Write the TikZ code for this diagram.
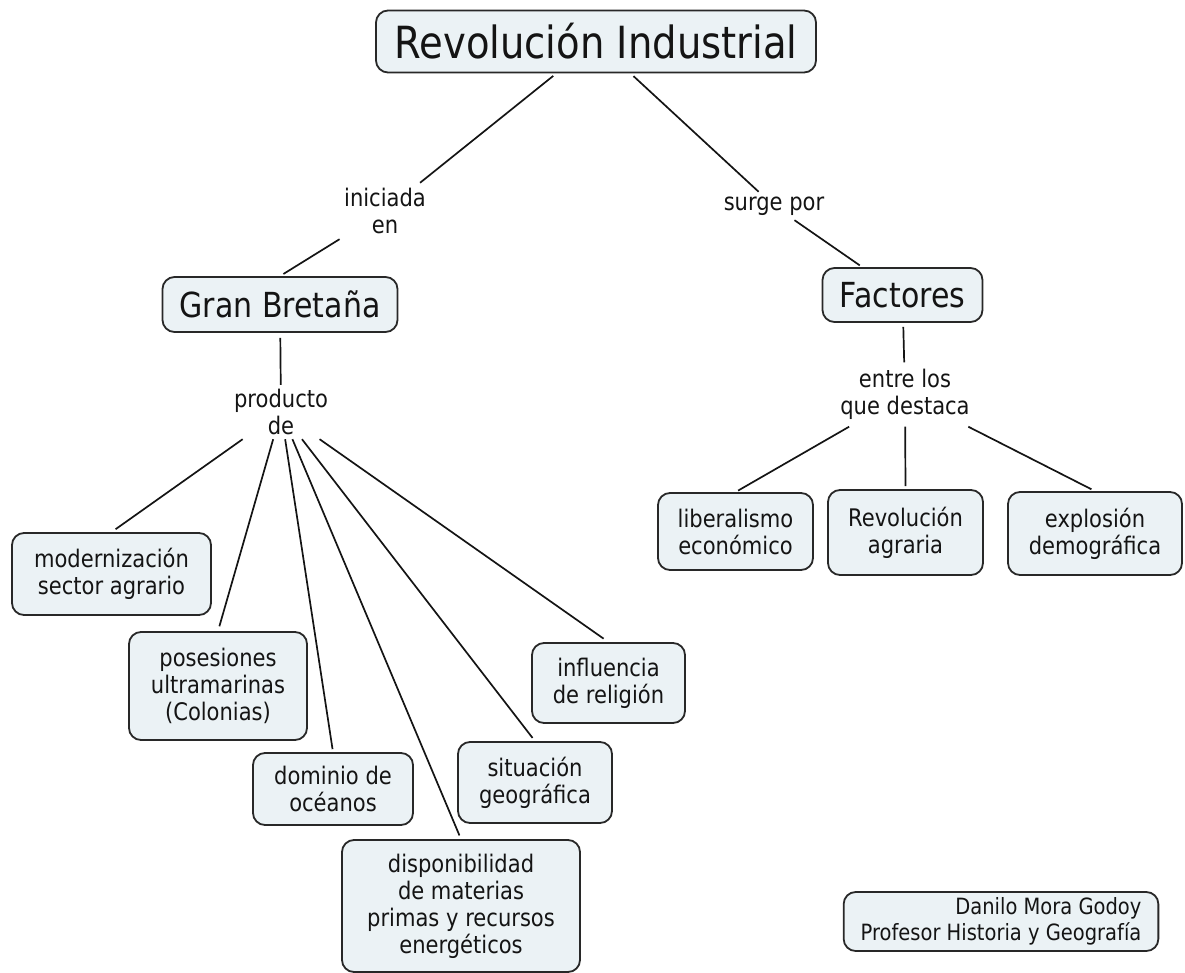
\documentclass[tikz,border=0pt]{standalone}
\usepackage{fontspec}
\setmainfont{DejaVu Sans}[FakeStretch=0.87]
\definecolor{boxfill}{RGB}{235,242,245}
\definecolor{boxline}{RGB}{40,40,40}
\definecolor{ink}{RGB}{20,20,20}
\begin{document}
\begin{tikzpicture}[x=1pt,y=-1pt,
  box/.style={draw=boxline, line width=1.8pt, rounded corners=12pt, fill=boxfill,
    align=center, inner sep=0pt, text=ink},
  big/.style={box, font=\fontsize{44.3}{50}\selectfont},
  mid/.style={box, font=\fontsize{34.5}{40}\selectfont},
  small/.style={box, font=\fontsize{24.2}{27}\selectfont},
  lbl/.style={align=center, inner sep=0pt, text=ink, font=\fontsize{24.2}{27}\selectfont},
  link/.style={draw=ink, line width=1.7pt}
]
\useasboundingbox (0,0) rectangle (1185,973);

% main nodes
\node[big, minimum width=440pt, minimum height=62pt] (title) at (596,41.5) {Revolución Industrial};
\node[mid, minimum width=235pt, minimum height=55pt] (gb) at (280,304.5) {Gran Bretaña};
\node[mid, minimum width=160pt, minimum height=54pt] (fac) at (902.5,295) {Factores};

% linking phrases
\node[lbl, minimum width=96pt, minimum height=56pt] (ini) at (385,211) {iniciada\\en};
\node[lbl, minimum width=112pt, minimum height=28pt] (surge) at (774,206) {surge por};
\node[lbl, minimum width=104pt, minimum height=54pt] (prod) at (281,412) {producto\\de};
\node[lbl, minimum width=150pt, minimum height=64pt] (entre) at (905,394.5) {entre los\\que destaca};

% factor boxes
\node[small, minimum width=155pt, minimum height=77pt] (lib) at (735.5,531.5) {liberalismo\\económico};
\node[small, minimum width=155pt, minimum height=85pt] (rev) at (905.5,532.5) {Revolución\\agraria};
\node[small, minimum width=174pt, minimum height=83pt] (exp) at (1095,533.5) {explosión\\demográfica};

% causes
\node[small, minimum width=199pt, minimum height=82pt] (mod) at (111.5,574) {modernización\\sector agrario};
\node[small, minimum width=178pt, minimum height=108pt] (pos) at (218,686) {posesiones\\ultramarinas\\(Colonias)};
\node[small, minimum width=160pt, minimum height=72pt] (dom) at (333,789) {dominio de\\océanos};
\node[small, minimum width=238pt, minimum height=132pt] (disp) at (461,906) {disponibilidad\\de materias\\primas y recursos\\energéticos};
\node[small, minimum width=154pt, minimum height=81pt] (sit) at (535,782.5) {situación\\geográfica};
\node[small, minimum width=153pt, minimum height=80pt] (inf) at (608.5,683) {influencia\\de religión};

% author
\node[box, align=right, font=\fontsize{22.4}{26}\selectfont, minimum width=308pt, minimum height=59pt, inner xsep=17pt] (auth) at (1001,921.5) {Danilo Mora Godoy\\Profesor Historia y Geografía};

% connectors
\draw[link, shorten <=4pt] (title) -- (ini);
\draw[link, shorten >=4pt] (ini) -- (gb.north);
\draw[link, shorten <=4pt] (title) -- (surge);
\draw[link, shorten >=3pt] (surge) -- (fac);
\draw[link, shorten <=5pt] (gb) -- (prod);
\draw[link, shorten <=4pt] (fac) -- (entre);
\draw[link, shorten >=3pt] (entre) -- (lib.north);
\draw[link, shorten >=3pt] (entre) -- (rev.north);
\draw[link, shorten >=4pt] (entre) -- (exp.north);
\draw[link, shorten >=5pt] (prod) -- (mod.north);
\draw[link, shorten >=5pt] (prod) -- (pos.north);
\draw[link, shorten >=3pt] (prod) -- (dom.north);
\draw[link, shorten >=4pt] (prod) -- (disp.north);
\draw[link, shorten >=4pt] (prod) -- (sit.north);
\draw[link, shorten >=6pt] (prod) -- (inf.north);
\end{tikzpicture}
\end{document}
